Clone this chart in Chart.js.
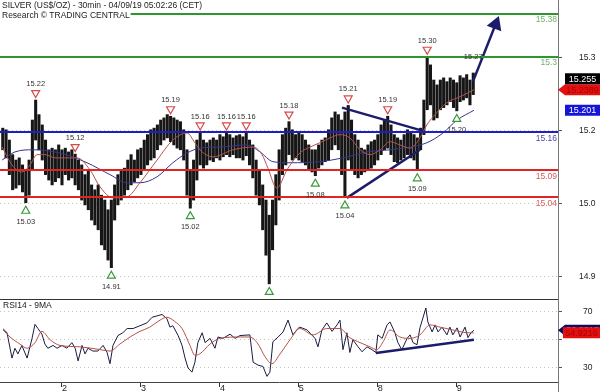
<!DOCTYPE html>
<html>
<head>
<meta charset="utf-8">
<script src="https://cdn.jsdelivr.net/npm/chart.js@4.4.1/dist/chart.umd.min.js"></script>
<style>
  html, body { margin: 0; padding: 0; background: #fff; }
  #wrap { position: relative; width: 600px; height: 392px; overflow: hidden; }
  #priceBox { position: absolute; left: 0; top: 0; width: 600px; height: 299px; }
  #rsiBox { position: absolute; left: 0; top: 299px; width: 600px; height: 93px; }
</style>
</head>
<body>
<div id="wrap">
  <div id="priceBox"><canvas id="priceChart"></canvas></div>
  <div id="rsiBox"><canvas id="rsiChart"></canvas></div>
</div>
<script>
// session hours, 0 = start of day 2 (weekend skipped)
const dayTicks = [0, 24, 48, 72, 96, 120];
const dayLabels = ['2', '3', '4', '5', '8', '9'];
const hourMin = -18.84;
const hourMax = 150.76;

// one bar per hour, first bar at hour -18
const firstBarHour = -18;
const barHigh = [
  15.168, 15.165, 15.146, 15.119, 15.109, 15.113, 15.100, 15.091, 15.109, 15.183,
  15.220, 15.193, 15.174, 15.146, 15.128, 15.131, 15.128, 15.137, 15.128, 15.131,
  15.124, 15.128, 15.120, 15.109, 15.100, 15.082, 15.091, 15.063, 15.054, 15.063,
  15.044, 15.035, 15.017, 15.035, 15.063, 15.082, 15.091, 15.094, 15.109, 15.119,
  15.109, 15.128, 15.131, 15.146, 15.156, 15.165, 15.168, 15.174, 15.183, 15.187,
  15.193, 15.190, 15.187, 15.183, 15.180, 15.165, 15.128, 15.091, 15.109, 15.146,
  15.160, 15.146, 15.141, 15.146, 15.150, 15.146, 15.156, 15.152, 15.160, 15.156,
  15.150, 15.154, 15.156, 15.152, 15.160, 15.146, 15.137, 15.109, 15.091, 15.063,
  15.035, 15.007, 15.035, 15.082, 15.128, 15.156, 15.168, 15.180, 15.165, 15.156,
  15.161, 15.156, 15.146, 15.137, 15.128, 15.128, 15.137, 15.146, 15.150, 15.165,
  15.187, 15.198, 15.193, 15.183, 15.198, 15.210, 15.183, 15.156, 15.146, 15.131,
  15.128, 15.137, 15.143, 15.146, 15.156, 15.174, 15.183, 15.190, 15.174, 15.156,
  15.150, 15.146, 15.156, 15.165, 15.161, 15.156, 15.150, 15.168, 15.220, 15.300,
  15.285, 15.257, 15.248, 15.257, 15.261, 15.254, 15.261, 15.257, 15.252, 15.265,
  15.261, 15.267, 15.257, 15.270
];
const barLow = [
  15.128, 15.113, 15.082, 15.054, 15.057, 15.063, 15.050, 15.030, 15.044, 15.091,
  15.146, 15.128, 15.109, 15.082, 15.072, 15.063, 15.069, 15.076, 15.063, 15.082,
  15.072, 15.076, 15.063, 15.054, 15.035, 15.026, 15.017, 14.998, 14.989, 14.980,
  14.952, 14.943, 14.924, 14.910, 14.998, 15.026, 15.035, 15.044, 15.054, 15.063,
  15.069, 15.076, 15.082, 15.091, 15.100, 15.109, 15.113, 15.128, 15.137, 15.146,
  15.150, 15.143, 15.137, 15.131, 15.128, 15.109, 15.044, 15.020, 15.035, 15.072,
  15.100, 15.094, 15.100, 15.109, 15.106, 15.113, 15.109, 15.115, 15.119, 15.115,
  15.119, 15.113, 15.113, 15.109, 15.117, 15.100, 15.076, 15.044, 15.026, 14.980,
  14.933, 14.880, 14.943, 14.989, 15.035, 15.082, 15.100, 15.119, 15.109, 15.113,
  15.109, 15.106, 15.100, 15.091, 15.087, 15.080, 15.094, 15.100, 15.106, 15.109,
  15.128, 15.137, 15.128, 15.082, 15.040, 15.109, 15.091, 15.082, 15.076, 15.082,
  15.087, 15.091, 15.094, 15.100, 15.109, 15.119, 15.128, 15.131, 15.119, 15.106,
  15.104, 15.109, 15.113, 15.119, 15.113, 15.109, 15.090, 15.128, 15.156, 15.202,
  15.211, 15.183, 15.187, 15.202, 15.206, 15.211, 15.217, 15.206, 15.200, 15.217,
  15.220, 15.224, 15.211, 15.230
];

// moving averages [hour, price]
const maFast = [
  [-18.2, 15.133], [-15.2, 15.100], [-12.2, 15.087], [-9.7, 15.100], [-7.6, 15.119],
  [-5.2, 15.119], [-2.1, 15.113], [0.9, 15.113], [4.6, 15.113], [8.5, 15.091],
  [11.6, 15.059], [15.5, 15.039], [19.8, 15.041], [23.7, 15.067], [28.9, 15.109],
  [33.7, 15.146], [38.0, 15.159], [40.4, 15.141], [41.9, 15.128], [45.9, 15.115],
  [52.0, 15.128], [58.1, 15.133], [60.8, 15.119], [62.6, 15.094], [65.3, 15.057],
  [68.4, 15.091], [72.3, 15.122], [75.4, 15.133], [78.4, 15.141], [81.5, 15.150],
  [84.5, 15.156], [87.5, 15.150], [90.6, 15.128], [93.6, 15.119], [96.7, 15.128],
  [99.7, 15.143], [102.7, 15.137], [105.8, 15.131], [108.8, 15.150], [110.9, 15.174],
  [112.8, 15.189], [117.0, 15.215], [121.0, 15.226], [125.2, 15.239]
];
const maSlow = [
  [-18.2, 15.109], [-14.3, 15.124], [-8.8, 15.128], [-0.6, 15.122], [7.6, 15.104],
  [14.6, 15.082], [19.8, 15.067], [23.7, 15.067], [28.9, 15.078], [33.7, 15.104],
  [38.0, 15.122], [41.9, 15.131], [48.0, 15.133], [56.2, 15.137], [60.2, 15.124],
  [64.1, 15.106], [69.3, 15.104], [78.4, 15.106], [85.4, 15.113], [92.7, 15.124],
  [99.7, 15.128], [105.8, 15.133], [110.9, 15.141], [115.8, 15.159], [120.1, 15.183],
  [125.2, 15.201]
];

// axis labels as printed on the original
const priceTickValues = [15.298, 15.163, 15.028, 14.893];
const priceTickLabels = ['15.3', '15.2', '15.0', '14.9'];

const levelValues = [15.38, 15.30, 15.16, 15.09, 15.04];
const levelLabels = ['15.38', '15.3', '15.16', '15.09', '15.04'];

const highMarkHours = [-8, 4, 33, 42, 50, 56, 69, 87, 99, 111];
const highMarkValues = [15.22, 15.12, 15.19, 15.16, 15.16, 15.16, 15.18, 15.21, 15.19, 15.30];
const lowMarkHours = [-11, 15, 39, 63, 77, 86, 108, 120];
const lowMarkValues = [15.03, 14.91, 15.02, 14.88, 15.08, 15.04, 15.09, 15.20];
const lowMarkLabels = ['15.03', '14.91', '15.02', '', '15.08', '15.04', '15.09', '15.20'];
const noteHours = [125];
const noteValues = [15.27];

const resistanceLine = [[85.1, 15.206], [109.7, 15.163]];
const supportLine = [[86.6, 15.039], [108.8, 15.128]];
const arrowLine = [[124.9, 15.254], [131.8, 15.360]];

const priceTagValues = [15.255, 15.2389, 15.201];

// RSI14 and its 9 period average [hour, value]
const rsi = [
  [-17.9, 57.8], [-16.7, 55], [-15.2, 37], [-14.3, 44], [-13.4, 40], [-12.2, 46], [-10.6, 37],
  [-9.1, 51], [-8.2, 61], [-7.3, 58], [-6.1, 54], [-5.2, 47], [-4.3, 44], [-2.7, 46],
  [-1.5, 44], [0, 46], [1.5, 44], [3.0, 48], [4.0, 44], [4.9, 35], [6.1, 46], [7.0, 40],
  [7.9, 44], [9.4, 42], [10.9, 42], [12.5, 46], [13.7, 41], [14.6, 33], [15.5, 46],
  [17.0, 53], [18.5, 55], [19.8, 58], [21.6, 58], [23.7, 60], [25.8, 62], [27.4, 66],
  [28.9, 67], [30.4, 68], [31.9, 65], [32.8, 59], [33.7, 60], [35.3, 53], [36.5, 46],
  [37.4, 37], [38.3, 30], [39.5, 27], [40.4, 34], [41.3, 48], [42.6, 55], [43.5, 48],
  [45.0, 51], [46.5, 44], [47.4, 52], [48.9, 51], [51.1, 54], [52.6, 51], [54.1, 53],
  [57.1, 53.5], [58.1, 34], [59.6, 32], [61.1, 31], [62.3, 24], [63.2, 27], [64.1, 48.6],
  [65.7, 52], [67.2, 55.6], [68.7, 64], [70.2, 53.5], [71.7, 58], [72.3, 59], [74.5, 57],
  [76.9, 51], [77.8, 45], [79.0, 57], [80.5, 62], [82.1, 56], [83.6, 60.6], [84.5, 64],
  [85.4, 43], [86.6, 55], [87.5, 41], [88.4, 50], [90.0, 45], [91.2, 41.5], [92.7, 45],
  [94.2, 43], [95.4, 41], [96.0, 53.5], [97.3, 51], [98.8, 60.6], [99.7, 62.7], [101.2, 55],
  [102.1, 48], [103.3, 43], [104.9, 51], [105.8, 53.5], [106.7, 48], [107.9, 46.5],
  [108.8, 58.5], [109.7, 65.5], [110.6, 72.6], [111.2, 62.7], [112.5, 55.6], [113.4, 60.6],
  [114.3, 55.6], [115.5, 59], [117.0, 53.5], [117.9, 59], [118.8, 53.5], [120.1, 58.5],
  [121.0, 52], [122.5, 59], [123.4, 51.5], [124.3, 55], [125.2, 56.8]
];
const rsiMa = [
  [-17.9, 57], [-15.8, 52], [-12.8, 47], [-10.6, 44], [-8.2, 48], [-6.1, 56], [-3.6, 50],
  [-0.6, 46], [5.5, 45], [11.6, 43], [14.6, 42], [17.6, 47], [20.7, 52], [23.7, 56],
  [26.7, 59], [29.8, 64], [31.9, 66], [34.3, 63], [36.5, 58], [38.9, 46], [40.4, 39],
  [41.9, 40], [45.0, 47], [48.0, 51], [54.1, 52], [57.1, 52], [59.6, 47], [61.7, 38],
  [63.8, 33], [66.3, 40], [69.3, 50], [72.3, 58], [76.3, 53.5], [80.5, 58], [84.5, 58],
  [87.5, 51.5], [90.6, 48], [93.6, 45], [95.7, 43], [97.6, 48.6], [99.7, 57], [102.7, 52],
  [105.8, 51], [108.8, 53.5], [111.9, 60.6], [114.9, 59], [118.8, 57], [123.1, 55], [125.2, 54.9]
];
const rsiTrend = [[95.4, 40.6], [125.2, 50]];
const rsiTickValues = [70, 50, 30];
const rsiTagValues = [56.8313, 54.9216];

const FONT = '"Liberation Sans", Arial, sans-serif';
Chart.defaults.font.family = FONT;
Chart.defaults.font.size = 8;
Chart.defaults.color = '#222';

const toXY = pts => pts.map(p => ({ x: p[0], y: p[1] }));

const levelColors = ['#2f962f', '#2f962f', '#1f1fc0', '#e02424', '#e02424'];
const levelTextColors = ['#6cb46c', '#6cb46c', '#4848b0', '#d85a5a', '#d85a5a'];

// keep the plot area flush with the canvas: no label padding above/below
function fixAxis(width) {
  return s => {
    if (width) s.width = width; else s.height = 10;
    s.paddingTop = 0;
    s.paddingBottom = 0;
    s.paddingLeft = 0;
    s.paddingRight = 0;
  };
}

function drawTriangle(ctx, cx, cy, down, color) {
  const w = 4, h = 3.5;
  ctx.beginPath();
  if (down) {
    ctx.moveTo(cx - w, cy - h); ctx.lineTo(cx + w, cy - h); ctx.lineTo(cx, cy + h);
  } else {
    ctx.moveTo(cx - w, cy + h); ctx.lineTo(cx + w, cy + h); ctx.lineTo(cx, cy - h);
  }
  ctx.closePath();
  ctx.fillStyle = '#fff';
  ctx.fill();
  ctx.lineWidth = 1.2;
  ctx.strokeStyle = color;
  ctx.stroke();
}

function drawTag(ctx, left, cy, text, bg, fg, arrow) {
  const h = 11, right = 600, body = arrow ? left + 7 : left;
  ctx.beginPath();
  if (arrow) {
    ctx.moveTo(left, cy);
    ctx.lineTo(body, cy - h / 2);
  } else {
    ctx.moveTo(body, cy - h / 2);
  }
  ctx.lineTo(right, cy - h / 2);
  ctx.lineTo(right, cy + h / 2);
  ctx.lineTo(body, cy + h / 2);
  ctx.closePath();
  ctx.fillStyle = bg;
  ctx.fill();
  ctx.fillStyle = fg;
  ctx.font = '9px ' + FONT;
  ctx.textAlign = 'center';
  ctx.textBaseline = 'middle';
  ctx.fillText(text, (body + right) / 2, cy + 0.5);
}

const priceOverlay = {
  id: 'priceOverlay',
  afterDatasetsDraw(chart) {
    const { ctx, chartArea: a, scales: { x, y } } = chart;
    ctx.save();
    ctx.beginPath();
    ctx.rect(a.left, a.top, a.right - a.left, a.bottom - a.top);
    ctx.clip();

    levelValues.forEach((v, i) => {
      const py = Math.round(y.getPixelForValue(v));
      ctx.strokeStyle = levelColors[i];
      ctx.lineWidth = 2;
      ctx.beginPath();
      ctx.moveTo(a.left, py);
      ctx.lineTo(a.right, py);
      ctx.stroke();
    });

    ctx.font = '7.5px ' + FONT;
    ctx.textAlign = 'center';
    ctx.textBaseline = 'middle';

    highMarkHours.forEach((h, i) => {
      const px = x.getPixelForValue(h);
      const py = y.getPixelForValue(highMarkValues[i]);
      drawTriangle(ctx, px, py - 6, true, '#d84a4a');
      ctx.fillStyle = '#333';
      ctx.fillText(highMarkValues[i].toFixed(2), px, py - 16);
    });
    noteHours.forEach((h, i) => {
      const px = x.getPixelForValue(h);
      const py = y.getPixelForValue(noteValues[i]);
      ctx.fillStyle = '#333';
      ctx.fillText(noteValues[i].toFixed(2), px, py - 16);
    });
    lowMarkHours.forEach((h, i) => {
      const px = x.getPixelForValue(h);
      const py = y.getPixelForValue(lowMarkValues[i]);
      drawTriangle(ctx, px, py + 7, false, '#3c9a3c');
      if (lowMarkLabels[i]) {
        ctx.fillStyle = '#333';
        ctx.fillText(lowMarkLabels[i], px, py + 19);
      }
    });
    ctx.restore();
  },
  afterDraw(chart) {
    const { ctx, chartArea: a, scales: { y } } = chart;
    ctx.save();

    // level captions at the right edge of the plot
    ctx.font = '8.5px ' + FONT;
    ctx.textAlign = 'right';
    ctx.textBaseline = 'middle';
    levelValues.forEach((v, i) => {
      const py = y.getPixelForValue(v);
      ctx.fillStyle = levelTextColors[i];
      ctx.fillText(levelLabels[i], a.right - 1, py + 6);
    });

    // header
    ctx.font = '8.5px ' + FONT;
    ctx.textAlign = 'left';
    const line1 = 'SILVER (US$/OZ) - 30min - 04/09/19 05:02:26 (CET)';
    const line2 = 'Research \u00A9 TRADING CENTRAL';
    ctx.fillStyle = '#fff';
    ctx.fillRect(0, 0, ctx.measureText(line1).width + 3, 11);
    ctx.fillRect(0, 11, ctx.measureText(line2).width + 3, 10);
    ctx.fillStyle = '#222';
    ctx.fillText(line1, 2, 6);
    ctx.fillText(line2, 2, 16);

    // last value tags
    const yLast = y.getPixelForValue(priceTagValues[0]);
    const yFast = y.getPixelForValue(priceTagValues[1]);
    const ySlow = y.getPixelForValue(priceTagValues[2]);
    drawTag(ctx, a.right, yFast, String(priceTagValues[1]), '#e41010', '#a80000', true);
    drawTag(ctx, a.right + 7, Math.min(yLast, yFast - 11), String(priceTagValues[0]), '#000', '#fff', false);
    drawTag(ctx, a.right + 7, ySlow, String(priceTagValues[2]), '#1515d8', '#fff', false);
    ctx.restore();
  }
};

const rsiOverlay = {
  id: 'rsiOverlay',
  afterDraw(chart) {
    const { ctx, chartArea: a, scales: { y } } = chart;
    ctx.save();
    ctx.strokeStyle = '#333';
    ctx.lineWidth = 1;
    ctx.beginPath();
    ctx.moveTo(0, a.top + 0.5);
    ctx.lineTo(a.right, a.top + 0.5);
    ctx.stroke();
    ctx.strokeStyle = '#777';
    ctx.beginPath();
    ctx.moveTo(a.right + 0.5, a.top);
    ctx.lineTo(a.right + 0.5, chart.height);
    ctx.stroke();

    ctx.font = '8.5px ' + FONT;
    ctx.fillStyle = '#222';
    ctx.textAlign = 'left';
    ctx.textBaseline = 'middle';
    ctx.fillText('RSI14 - 9MA', 3, 7);

    drawTag(ctx, a.right, y.getPixelForValue(rsiTagValues[0]), String(rsiTagValues[0]), '#0c0c62', '#fff', true);
    drawTag(ctx, a.right + 5, y.getPixelForValue(rsiTagValues[1]), String(rsiTagValues[1]), '#e41010', '#a80000', false);
    ctx.restore();
  }
};

const dottedGrid = {
  grid: { color: '#c4c4c4', lineWidth: 1, drawTicks: true, tickLength: 4, tickColor: '#555' },
  border: { display: true, color: '#777', width: 1, dash: [1, 3] }
};

new Chart(document.getElementById('priceChart'), {
  type: 'bar',
  data: {
    datasets: [
      {
        type: 'line',
        data: toXY(arrowLine),
        borderColor: '#1c1c6b',
        borderWidth: 2.5,
        pointRadius: [0, 6.5],
        pointStyle: 'triangle',
        pointRotation: 21,
        pointBackgroundColor: '#1c1c6b',
        pointBorderColor: '#1c1c6b',
        order: 0
      },
      { type: 'line', data: toXY(resistanceLine), borderColor: '#1c1c6b', borderWidth: 2.5, pointRadius: 0, order: 1 },
      { type: 'line', data: toXY(supportLine), borderColor: '#1c1c6b', borderWidth: 2.5, pointRadius: 0, order: 1 },
      { type: 'line', data: toXY(maFast), borderColor: '#b5524a', borderWidth: 1, pointRadius: 0, tension: 0.4, cubicInterpolationMode: 'monotone', order: 2 },
      { type: 'line', data: toXY(maSlow), borderColor: '#34348c', borderWidth: 1, pointRadius: 0, tension: 0.4, cubicInterpolationMode: 'monotone', order: 2 },
      {
        type: 'bar',
        data: barHigh.map((hi, i) => ({ x: firstBarHour + i, y: [barLow[i], hi] })),
        backgroundColor: '#161616',
        borderWidth: 0,
        barThickness: 2.4,
        grouped: false,
        order: 3
      }
    ]
  },
  options: {
    responsive: true,
    maintainAspectRatio: false,
    animation: false,
    events: [],
    layout: { padding: 0, autoPadding: false },
    plugins: { legend: { display: false }, tooltip: { enabled: false } },
    scales: {
      x: { type: 'linear', min: hourMin, max: hourMax, offset: false, display: false },
      y: {
        position: 'right',
        min: 14.852,
        max: 15.405,
        afterBuildTicks: s => { s.ticks = priceTickValues.map(v => ({ value: v })); },
        afterFit: fixAxis(42),
        ticks: { padding: 17, autoSkip: false, callback: (v, i) => priceTickLabels[i], font: { size: 8.5 } },
        ...dottedGrid
      }
    }
  },
  plugins: [priceOverlay]
});

new Chart(document.getElementById('rsiChart'), {
  type: 'line',
  data: {
    datasets: [
      { data: toXY(rsiTrend), borderColor: '#1c1c6b', borderWidth: 2.5, pointRadius: 0 },
      { data: toXY(rsiMa), borderColor: '#b5524a', borderWidth: 1, pointRadius: 0, tension: 0.4, cubicInterpolationMode: 'monotone' },
      { data: toXY(rsi), borderColor: '#1b1b40', borderWidth: 1, pointRadius: 0 }
    ]
  },
  options: {
    responsive: true,
    maintainAspectRatio: false,
    animation: false,
    events: [],
    layout: { padding: 0, autoPadding: false },
    plugins: { legend: { display: false }, tooltip: { enabled: false } },
    scales: {
      x: {
        type: 'linear',
        min: hourMin,
        max: hourMax,
        afterBuildTicks: s => { s.ticks = dayTicks.map(v => ({ value: v })); },
        afterFit: fixAxis(0),
        grid: { drawOnChartArea: false, drawTicks: true, tickLength: 5, tickColor: '#333' },
        border: { display: true, color: '#444', width: 1 },
        ticks: { align: 'start', padding: -4, maxRotation: 0, autoSkip: false, callback: (v, i) => dayLabels[i], font: { size: 9 } }
      },
      y: {
        position: 'right',
        min: 20,
        max: 79,
        afterBuildTicks: s => { s.ticks = rsiTickValues.map(v => ({ value: v })); },
        afterFit: fixAxis(42),
        ticks: { padding: 21, autoSkip: false, callback: v => (v === 50 ? '' : String(v)), font: { size: 8.5 } },
        ...dottedGrid
      }
    }
  },
  plugins: [rsiOverlay]
});
</script>
</body>
</html>
